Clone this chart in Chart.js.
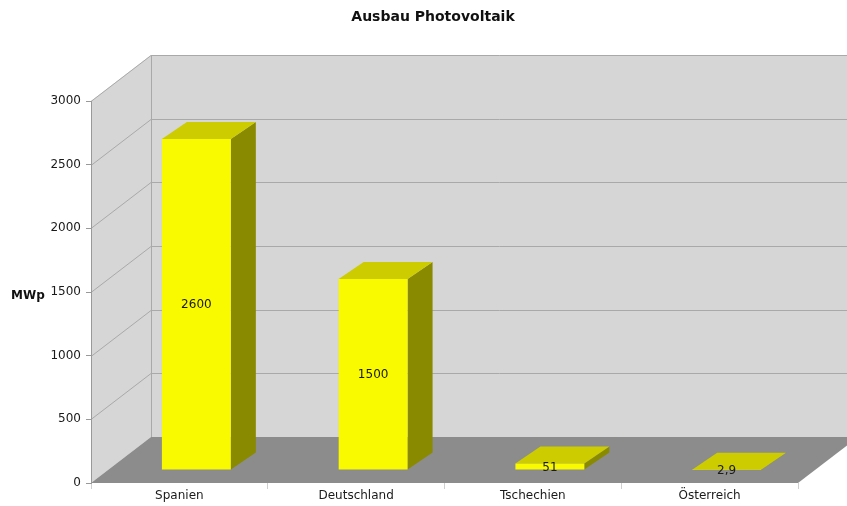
<!DOCTYPE html>
<html lang="de">
<head>
<meta charset="utf-8">
<title>Ausbau Photovoltaik</title>
<script src="https://cdn.jsdelivr.net/npm/chart.js@4"></script>
<style>
  html, body { margin: 0; padding: 0; background: #fff; }
  #wrap { width: 847px; height: 506px; }
</style>
</head>
<body>
<div id="wrap"><canvas id="chart" width="847" height="506"></canvas></div>
<script>
// Daten
const laender = ["Spanien", "Deutschland", "Tschechien", "Österreich"];
const leistungMWp = [2600, 1500, 51, 2.9];
const titel = "Ausbau Photovoltaik";
const achsenTitel = "MWp";
const yMax = 3000;
const yStep = 500;

// 3D-Versatz (Pixel)
const TIEFE_X = 60, TIEFE_Y = -46;      // Rückwand gegenüber Vorderkante
const BALKEN_X = 17, BALKEN_Y = -13;    // Vorderseite der Balken
const BALKEN_TX = 25, BALKEN_TY = -17;  // Tiefe der Balken

const FONT = "'DejaVu Sans', Verdana, sans-serif";

function poly(ctx, pts, farbe) {
    ctx.beginPath();
    ctx.moveTo(pts[0][0], pts[0][1]);
    for (let i = 1; i < pts.length; i++) ctx.lineTo(pts[i][0], pts[i][1]);
    ctx.closePath();
    ctx.fillStyle = farbe;
    ctx.fill();
}

// Wände, Boden und Gitterlinien
const kulisse = {
    id: "kulisse",
    beforeDraw(chart) {
        const { ctx, chartArea: a } = chart;
        const y = chart.scales.y;
        const L = a.left, R = a.right, T = a.top, B = a.bottom;
        ctx.save();
        ctx.fillStyle = "#d6d6d6";
        ctx.fillRect(L + TIEFE_X, T + TIEFE_Y, R - L + 60, B - T);
        poly(ctx, [[L, T], [L + TIEFE_X, T + TIEFE_Y], [L + TIEFE_X, B + TIEFE_Y], [L, B]], "#d6d6d6");
        poly(ctx, [[L, B], [L + TIEFE_X, B + TIEFE_Y], [R + TIEFE_X, B + TIEFE_Y], [R, B]], "#8c8c8c");

        ctx.lineWidth = 1;
        ctx.strokeStyle = "#a9a9a9";
        for (let v = yStep; v <= yMax; v += yStep) {
            const py = Math.round(y.getPixelForValue(v)) + 0.5;
            ctx.beginPath();
            ctx.moveTo(L, py);
            ctx.lineTo(L + TIEFE_X, py + TIEFE_Y);
            ctx.lineTo(R + TIEFE_X + 60, py + TIEFE_Y);
            ctx.stroke();
        }
        ctx.beginPath();
        ctx.moveTo(L + TIEFE_X + 0.5, T + TIEFE_Y);
        ctx.lineTo(L + TIEFE_X + 0.5, B + TIEFE_Y);
        ctx.stroke();
        ctx.restore();
    }
};

// Seiten- und Deckflächen der Balken, Beschriftungen
const balken3d = {
    id: "balken3d",
    beforeDatasetsDraw(chart) {
        const ctx = chart.ctx;
        const meta = chart.getDatasetMeta(0);
        ctx.save();
        meta.data.forEach(bar => {
            const p = bar.getProps(["x", "y", "base", "width"], true);
            const l = p.x - p.width / 2 + BALKEN_X, r = p.x + p.width / 2 + BALKEN_X;
            const t = p.y + BALKEN_Y, b = p.base + BALKEN_Y;
            poly(ctx, [[r, t], [r + BALKEN_TX, t + BALKEN_TY], [r + BALKEN_TX, b + BALKEN_TY], [r, b]], "#8a8a00");
            poly(ctx, [[l, t], [l + BALKEN_TX, t + BALKEN_TY], [r + BALKEN_TX, t + BALKEN_TY], [r, t]], "#cccc00");
        });
        // Vorderseiten zeichnet Chart.js selbst, nur verschoben
        ctx.translate(BALKEN_X, BALKEN_Y);
    },
    afterDatasetsDraw(chart) {
        const ctx = chart.ctx;
        ctx.restore();
        const meta = chart.getDatasetMeta(0);
        ctx.save();
        ctx.font = "12px " + FONT;
        ctx.fillStyle = "#1a1a1a";
        ctx.textAlign = "center";
        ctx.textBaseline = "middle";
        meta.data.forEach((bar, i) => {
            const p = bar.getProps(["x", "y", "base"], true);
            const mitte = (p.y + p.base) / 2 + BALKEN_Y;
            ctx.fillText(String(leistungMWp[i]).replace(".", ","), p.x + BALKEN_X, mitte + 1);
        });
        ctx.restore();
    },
    afterDraw(chart) {
        const ctx = chart.ctx;
        ctx.save();
        ctx.fillStyle = "#111";
        ctx.textAlign = "center";
        ctx.textBaseline = "middle";
        ctx.font = "bold 14px " + FONT;
        ctx.fillText(titel, 433, 17);
        ctx.font = "bold 12px " + FONT;
        ctx.fillText(achsenTitel, 28, 296);
        ctx.restore();
    }
};

new Chart(document.getElementById("chart"), {
    type: "bar",
    data: {
        labels: laender,
        datasets: [{
            data: leistungMWp,
            backgroundColor: "#f9f900",
            borderWidth: 0,
            barPercentage: 0.39,
            categoryPercentage: 1
        }]
    },
    options: {
        responsive: false,
        animation: false,
        events: [],
        layout: { padding: { top: 101, right: 49, left: 0, bottom: 0 } },
        plugins: {
            legend: { display: false },
            tooltip: { enabled: false }
        },
        scales: {
            x: {
                afterFit: s => { s.height = 23; },
                grid: { offset: true, drawOnChartArea: false, tickLength: 6, color: "#cfcfcf" },
                border: { display: false },
                ticks: { font: { family: FONT, size: 12 }, color: "#1a1a1a", padding: 0 }
            },
            y: {
                min: 0,
                max: yMax,
                afterFit: s => { s.width = 91; },
                grid: { drawOnChartArea: false, tickLength: 5, color: "#999" },
                border: { display: true, color: "#999" },
                ticks: {
                    stepSize: yStep,
                    callback: v => String(v),
                    font: { family: FONT, size: 12 },
                    color: "#1a1a1a",
                    padding: 5
                }
            }
        }
    },
    plugins: [kulisse, balken3d]
});
</script>
</body>
</html>
